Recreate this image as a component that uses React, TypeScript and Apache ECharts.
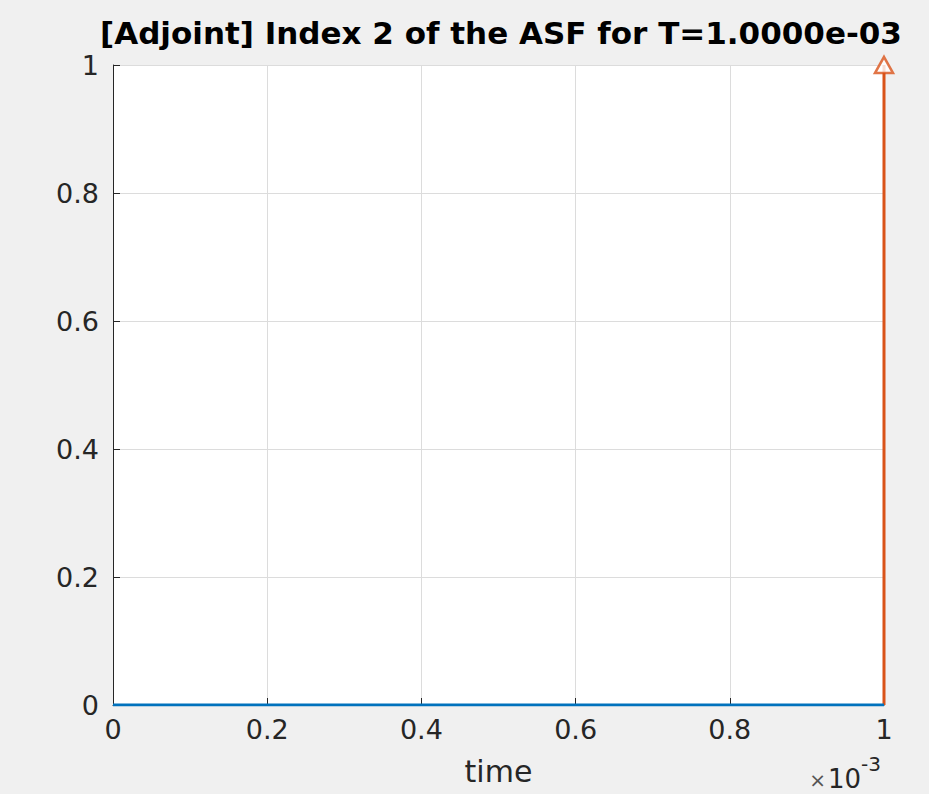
import React, { useEffect, useRef } from "react";
import * as echarts from "echarts";

// Time samples (seconds) and the state index along the adjoint solution
const timeSec = [0, 1.0e-3];
const indexValues = [0, 0];

// Impulse at the final time T
const impulseTime = [1.0e-3];
const impulseValue = [1];

const xTicks = [0, 0.2, 0.4, 0.6, 0.8, 1];
const yTicks = [0, 0.2, 0.4, 0.6, 0.8, 1];
const xScale = 1e3; // axis shows time in units of 10^-3

const BLUE = "#0072BD";
const ORANGE = "#D95319";
const TEXT = "#262626";
const FONT = "DejaVu Sans";

export default function App() {
  const ref = useRef<HTMLDivElement>(null);

  useEffect(() => {
    if (!ref.current) return;
    const chart = echarts.init(ref.current, undefined, { renderer: "svg" });

    const lineData = timeSec.map((t, i) => [t * xScale, indexValues[i]]);
    const stemData: number[][] = [];
    impulseTime.forEach((t, i) => {
      stemData.push([t * xScale, 0], [t * xScale, impulseValue[i]]);
    });
    const tipData = impulseTime.map((t, i) => [t * xScale, impulseValue[i]]);

    chart.setOption({
      animation: false,
      backgroundColor: "#f0f0f0",
      title: {
        text: "[Adjoint] Index 2 of the ASF for T=1.0000e-03",
        left: 95,
        top: 12,
        textStyle: { fontFamily: FONT, fontWeight: "bold", fontSize: 31, color: "#000" },
      },
      grid: {
        left: 113,
        top: 65,
        width: 771,
        height: 640,
        show: true,
        backgroundColor: "#ffffff",
        borderWidth: 0,
      },
      xAxis: {
        type: "value",
        min: xTicks[0],
        max: xTicks[xTicks.length - 1],
        interval: 0.2,
        name: "time",
        nameLocation: "middle",
        nameGap: 51,
        nameTextStyle: { fontFamily: FONT, fontSize: 30, color: TEXT },
        axisLine: { show: true, lineStyle: { color: TEXT, width: 1 } },
        axisTick: { show: true, inside: true, length: 7, lineStyle: { color: TEXT } },
        axisLabel: {
          fontFamily: FONT,
          fontSize: 27,
          color: TEXT,
          margin: 11,
          formatter: (v: number) => String(Math.round(v * 10) / 10),
        },
        splitLine: { show: true, lineStyle: { color: "#dcdcdc", width: 1 } },
      },
      yAxis: {
        type: "value",
        min: yTicks[0],
        max: yTicks[yTicks.length - 1],
        interval: 0.2,
        axisLine: { show: true, lineStyle: { color: TEXT, width: 1 } },
        axisTick: { show: true, inside: true, length: 7, lineStyle: { color: TEXT } },
        axisLabel: {
          fontFamily: FONT,
          fontSize: 27,
          color: TEXT,
          margin: 14,
          formatter: (v: number) => String(Math.round(v * 10) / 10),
        },
        splitLine: { show: true, lineStyle: { color: "#dcdcdc", width: 1 } },
      },
      graphic: [
        {
          type: "text",
          right: 48,
          top: 754,
          style: {
            text: "{a|×}{b|10}{c|-3}",
            rich: {
              a: { fontFamily: FONT, fontSize: 20, fill: "#555", verticalAlign: "bottom", padding: [0, 2, 2, 0] },
              b: { fontFamily: FONT, fontSize: 26, fill: TEXT, verticalAlign: "bottom" },
              c: { fontFamily: FONT, fontSize: 20, fill: TEXT, verticalAlign: "top", padding: [0, 0, 18, 0] },
            },
          },
        },
      ],
      series: [
        {
          type: "line",
          data: lineData,
          symbol: "none",
          lineStyle: { color: BLUE, width: 3 },
          z: 3,
        },
        {
          type: "line",
          data: stemData,
          symbol: "none",
          clip: false,
          lineStyle: { color: ORANGE, width: 3 },
          z: 2,
        },
        {
          type: "scatter",
          data: tipData,
          symbol: "triangle",
          symbolSize: [18, 16],
          clip: false,
          itemStyle: { color: "#ffffff", borderColor: ORANGE, borderWidth: 2.5 },
          z: 4,
        },
      ],
    });

    return () => chart.dispose();
  }, []);

  return (
    <div
      ref={ref}
      style={{ position: "fixed", left: 0, top: 0, width: 929, height: 794 }}
    />
  );
}
